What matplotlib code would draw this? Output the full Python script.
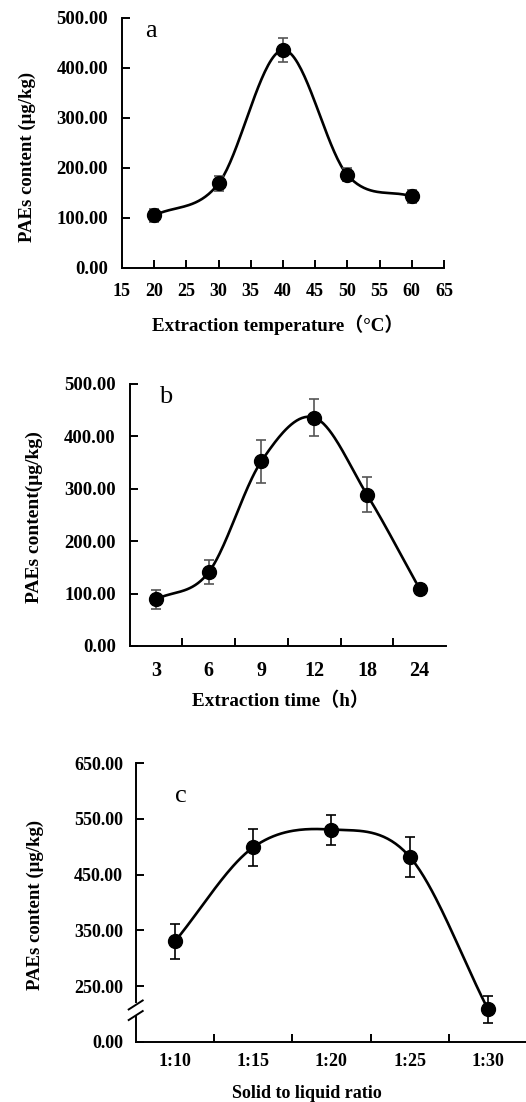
import numpy as np
import matplotlib
matplotlib.use("Agg")
from matplotlib import pyplot as plt

# panel a: extraction temperature
temp = [20, 30, 40, 50, 60]
temp_val = [105, 169, 436, 186, 143]
temp_err = [13, 15, 25, 13, 13]

# panel b: extraction time
time_lbl = ["3", "6", "9", "12", "18", "24"]
time_val = [89, 141, 353, 436, 289, 109]
time_err = [18, 23, 41, 36, 33, 10]

# panel c: solid to liquid ratio
ratio_lbl = ["1:10", "1:15", "1:20", "1:25", "1:30"]
ratio_val = [330, 499, 531, 482, 208]
ratio_err = [32, 33, 27, 36, 24]

SERIF = ["Liberation Serif", "DejaVu Serif"]
MIXED = ["Liberation Serif", "Noto Sans CJK SC", "DejaVu Sans"]
plt.rcParams["font.family"] = SERIF
plt.rcParams["font.weight"] = "bold"

W, H = 526, 1102


def smooth(x, y, n=40):
    # catmull-rom through the points (x evenly spaced)
    x = np.asarray(x, float)
    y = np.asarray(y, float)
    px = np.concatenate([[2 * x[0] - x[1]], x, [2 * x[-1] - x[-2]]])
    py = np.concatenate([[y[0] - (y[1] - y[0])], y, [y[-1] + (y[-1] - y[-2])]])
    xs, ys = [], []
    t = np.linspace(0, 1, n)
    for i in range(1, len(px) - 2):
        for p, out in ((px, xs), (py, ys)):
            p0, p1, p2, p3 = p[i - 1], p[i], p[i + 1], p[i + 2]
            out.append(0.5 * ((2 * p1) + (-p0 + p2) * t
                              + (2 * p0 - 5 * p1 + 4 * p2 - p3) * t ** 2
                              + (-p0 + 3 * p1 - 3 * p2 + p3) * t ** 3))
    return np.concatenate(xs), np.concatenate(ys)


def box(l, t, r, b):
    return [l / W, 1 - b / H, (r - l) / W, (b - t) / H]


def style(ax):
    for s in ("top", "right"):
        ax.spines[s].set_visible(False)
    for s in ("left", "bottom"):
        ax.spines[s].set_linewidth(1.4)
    ax.tick_params(direction="in", length=6, width=1.4, labelsize=13)


def draw(ax, x, y, err, ecol):
    sx, sy = smooth(x, y)
    ax.plot(sx, sy, color="black", lw=1.9, zorder=2)
    ax.errorbar(x, y, yerr=err, fmt="none", ecolor=ecol, elinewidth=1.2,
                capsize=3.5, capthick=1.2, zorder=3)
    ax.plot(x, y, "o", color="black", ms=10, zorder=4)


fig = plt.figure(figsize=(W / 100, H / 100), dpi=100)

# ---- a
ax = fig.add_axes(box(122, 18, 444, 268))
style(ax)
draw(ax, temp, temp_val, temp_err, "#555555")
ax.set_xlim(15, 65)
ax.set_ylim(0, 500)
ax.set_xticks(range(15, 66, 5))
ax.set_yticks(range(0, 501, 100))
ax.set_yticklabels(["%.2f" % v for v in range(0, 501, 100)])
ax.tick_params(axis="y", pad=10, labelsize=13.5)
ax.tick_params(axis="x", pad=11, labelsize=13)
fig.text(151 / W, 1 - 31 / H, "a", fontsize=19, fontweight="normal",
         ha="center", va="center")
fig.text(27 / W, 1 - 157 / H, "PAEs content (μg/kg)", rotation=90,
         ha="center", va="center", fontsize=13.5)
fig.text(278 / W, 1 - 325 / H, "Extraction temperature（°C）", family=MIXED,
         ha="center", va="center", fontsize=13.7, fontweight="bold")

# ---- b
ax = fig.add_axes(box(129.7, 384, 446, 646))
style(ax)
xb = np.arange(len(time_lbl)) + 0.5
draw(ax, xb, time_val, time_err, "#555555")
ax.set_xlim(0, len(time_lbl))
ax.set_ylim(0, 500)
ax.set_xticks(xb)
ax.set_xticklabels(time_lbl)
ax.set_xticks(np.arange(1, len(time_lbl)), minor=True)
ax.tick_params(axis="x", which="major", length=0, pad=11, labelsize=14.5)
ax.tick_params(axis="x", which="minor", direction="in", length=6, width=1.4)
ax.set_yticks(range(0, 501, 100))
ax.set_yticklabels(["%.2f" % v for v in range(0, 501, 100)])
ax.tick_params(axis="y", pad=10, labelsize=13.5)
fig.text(166 / W, 1 - 397 / H, "b", fontsize=19, fontweight="normal",
         ha="center", va="center")
fig.text(34 / W, 1 - 517 / H, "PAEs content(μg/kg)", rotation=90,
         ha="center", va="center", fontsize=14)
fig.text(281 / W, 1 - 701 / H, "Extraction time（h）", family=MIXED,
         ha="center", va="center", fontsize=13.8, fontweight="bold")

# ---- c (broken y axis: 0.00 drawn at 150)
ax = fig.add_axes(box(135.7, 763.3, 135.7 + 5 * 78.3, 1041.7))
style(ax)
ax.spines["left"].set_visible(False)
xc = np.arange(len(ratio_lbl)) + 0.5
draw(ax, xc, ratio_val, ratio_err, "black")
ax.set_xlim(0, len(ratio_lbl))
ax.set_ylim(150, 650)
ax.set_xticks(xc)
ax.set_xticklabels(ratio_lbl)
ax.set_xticks(np.arange(1, len(ratio_lbl)), minor=True)
ax.tick_params(axis="x", which="major", length=0, pad=8, labelsize=13)
ax.tick_params(axis="x", which="minor", direction="in", length=6, width=1.4)
ax.set_yticks([150, 250, 350, 450, 550, 650])
ax.set_yticklabels(["0.00", "250.00", "350.00", "450.00", "550.00", "650.00"])
ax.tick_params(axis="y", pad=9, labelsize=13)
yt = ax.get_yaxis_transform()
ax.plot([0, 0], [150, 194], transform=yt, color="black", lw=1.4, clip_on=False)
ax.plot([0, 0], [221, 650], transform=yt, color="black", lw=1.4, clip_on=False)
dx, dy = 7 / 391.5, 4.5 / 278.4
for yc in (216, 197):
    f = (yc - 150) / 500
    ax.plot([-dx, dx], [f - dy, f + dy], transform=ax.transAxes, color="black",
            lw=1.4, clip_on=False)
fig.text(181 / W, 1 - 796 / H, "c", fontsize=19, fontweight="normal",
         ha="center", va="center")
fig.text(35 / W, 1 - 905 / H, "PAEs content (μg/kg)", rotation=90,
         ha="center", va="center", fontsize=13.5)
fig.text(307 / W, 1 - 1093 / H, "Solid to liquid ratio", ha="center",
         va="center", fontsize=13, fontweight="bold")

fig.savefig("out.png", dpi=100)
